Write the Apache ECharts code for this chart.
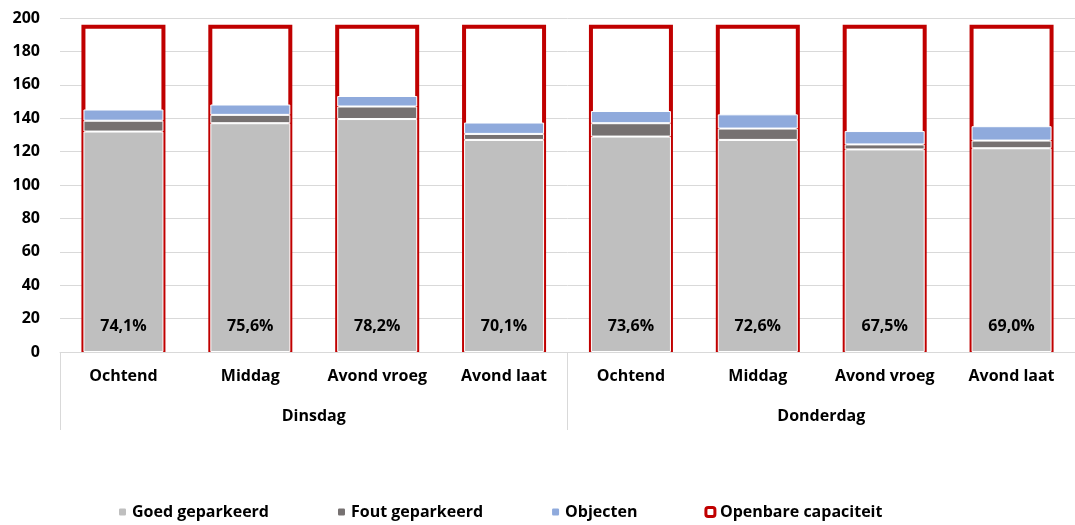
<!DOCTYPE html>
<html>
<head>
<meta charset="utf-8">
<script src="https://cdn.jsdelivr.net/npm/echarts@6/dist/echarts.min.js"></script>
<style>html,body{margin:0;padding:0;background:#fff}#c{width:1075px;height:525px}</style>
</head>
<body>
<div id="c"></div>
<script>
const categories = ['Ochtend','Middag','Avond vroeg','Avond laat','Ochtend','Middag','Avond vroeg','Avond laat'];
const groups = ['Dinsdag','Donderdag'];
const goedGeparkeerd = [132, 137, 139.5, 127, 129, 127, 121.3, 122];
const foutGeparkeerd = [6.5, 5, 7.5, 3.6, 8, 6.8, 3, 4.6];
const objecten = [6.7, 6.2, 6.3, 6.8, 7.3, 8.5, 8, 8.6];
const capaciteit = [196, 196, 196, 196, 196, 196, 196, 196];
const bezetting = ['74,1%','75,6%','78,2%','70,1%','73,6%','72,6%','67,5%','69,0%'];
const yTicks = {min: 0, max: 200, interval: 20};

const FONT = 'Open Sans';
const chart = echarts.init(document.getElementById('c'), null, {renderer: 'canvas'});
const stackStyle = c => ({color: c, borderColor: '#ffffff', borderWidth: 1});
const txt = {fontFamily: FONT, fontWeight: 'bold', fontSize: 16, color: '#000'};
chart.setOption({
  animation: false,
  textStyle: {fontFamily: FONT},
  grid: {left: 60, top: 18, width: 1017, height: 334},
  legend: {
    bottom: 0, left: 112, itemWidth: 9, itemHeight: 9, itemGap: 67,
    textStyle: txt,
    data: [
      {name: 'Goed geparkeerd'},
      {name: 'Fout geparkeerd'},
      {name: 'Objecten'},
      {name: 'Openbare capaciteit', itemStyle: {color: '#ffffff', borderColor: '#c00000', borderWidth: 3}}
    ]
  },
  xAxis: [
    {type: 'category', data: categories, position: 'bottom',
     axisLine: {lineStyle: {color: '#d9d9d9', width: 1}}, axisTick: {show: false},
     axisLabel: Object.assign({interval: 0, margin: 16}, txt)},
    {type: 'category', data: groups, position: 'bottom',
     axisLine: {show: false},
     axisTick: {show: true, length: 78, lineStyle: {color: '#d9d9d9', width: 1}},
     axisLabel: Object.assign({interval: 0, margin: 56}, txt)},
    {type: 'category', data: categories, show: false}
  ],
  yAxis: {
    type: 'value', min: yTicks.min, max: yTicks.max, interval: yTicks.interval,
    axisLine: {show: false}, axisTick: {show: false},
    splitLine: {lineStyle: {color: '#d9d9d9', width: 1}},
    axisLabel: Object.assign({margin: 20}, txt)
  },
  series: [
    {name: 'Openbare capaciteit', type: 'bar', xAxisIndex: 2, data: capaciteit, barWidth: 84, z: 1,
     itemStyle: {color: '#ffffff', borderColor: '#c00000', borderWidth: 4}},
    {name: 'Goed geparkeerd', type: 'bar', stack: 'a', xAxisIndex: 0, data: goedGeparkeerd, barWidth: 80, z: 2,
     itemStyle: stackStyle('#bfbfbf'),
     label: Object.assign({show: true, position: 'insideBottom', distance: 18,
             formatter: p => bezetting[p.dataIndex]}, txt)},
    {name: 'Fout geparkeerd', type: 'bar', stack: 'a', xAxisIndex: 0, data: foutGeparkeerd, barWidth: 80, z: 2,
     itemStyle: stackStyle('#767171')},
    {name: 'Objecten', type: 'bar', stack: 'a', xAxisIndex: 0, data: objecten, barWidth: 80, z: 2,
     itemStyle: stackStyle('#8faadc')}
  ]
});
</script>
</body>
</html>
